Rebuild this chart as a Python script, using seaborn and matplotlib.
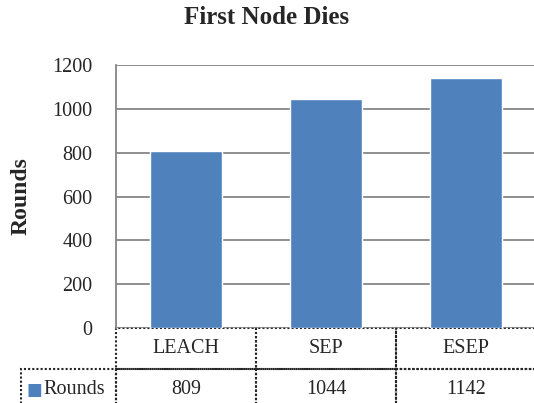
import matplotlib
matplotlib.use("Agg")
import matplotlib.pyplot as plt
import seaborn as sns
import pandas as pd

categories = ["LEACH", "SEP", "ESEP"]
rounds = [809, 1044, 1142]
series_name = "Rounds"
yticks = [0, 200, 400, 600, 800, 1000, 1200]

BAR = "#4F81BD"
sns.set_theme(style="white")
plt.rcParams["font.family"] = ["Liberation Serif", "DejaVu Serif"]

df = pd.DataFrame({"cat": categories, "val": rounds})

fig = plt.figure(figsize=(5.34, 4.03), dpi=100)
ax = fig.add_axes([116/534, 75/403, 420/534, 263/403])

sns.barplot(data=df, x="cat", y="val", color=BAR, saturation=1, width=0.52, ax=ax, zorder=3)

ax.set_xlim(-0.5, len(categories) - 0.5)
ax.set_ylim(0, 1200)
ax.set_yticks(yticks)
ax.set_yticklabels([str(t) for t in yticks], fontsize=14.5)
ax.tick_params(axis="y", length=0, pad=17)
ax.set_xticks([])
ax.set_xlabel("")
ax.set_ylabel(series_name, fontsize=17, fontweight="bold")
ax.yaxis.set_label_coords(-84/420, 0.5)
ax.grid(axis="y", color="#868686", linewidth=1.3, zorder=0)
for s in ["top", "right", "bottom"]:
    ax.spines[s].set_visible(False)
ax.spines["left"].set_color("#868686")
ax.spines["left"].set_linewidth(1.3)

fig.suptitle("First Node Dies", fontsize=18, fontweight="bold", y=1 - 18/403, va="center")

# data table
cell_text = [[""] + categories, [series_name] + [str(v) for v in rounds]]
colw = [95/420] + [140/420] * len(categories)
tbl = ax.table(cellText=cell_text, colWidths=colw, cellLoc="center",
               bbox=[-95/420, -82/263, 1 + 95/420, 82/263])
tbl.auto_set_font_size(False)
tbl.set_fontsize(14.5)
for (r, c), cell in tbl.get_celld().items():
    cell.set_edgecolor("#262626")
    cell.set_linewidth(1.5)
    cell.set_linestyle((0, (1, 1)))
    cell.set_facecolor("none")
    if r == 0 and c == 0:
        cell.visible_edges = ""
    if r == 1 and c == 0:
        cell.get_text().set_horizontalalignment("right")
        cell.PAD = 0.11

ax.text(-90/420, -62/263, "■", transform=ax.transAxes, color=BAR, fontsize=12,
        family="DejaVu Sans", ha="left", va="center", clip_on=False)

fig.savefig("out.png", dpi=100)
